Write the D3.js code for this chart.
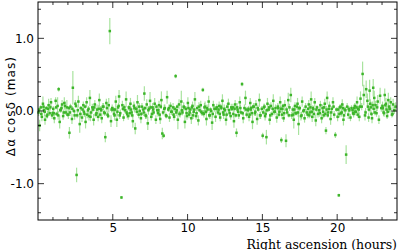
<!DOCTYPE html>
<meta charset="utf-8">
<style>
body { margin: 0; background: #fff; }
.axis text { font: 12px "DejaVu Sans", sans-serif; fill: #000; }
.xlabel { font: 12.5px "DejaVu Serif", serif; }
.ylabel { font: 12px "DejaVu Sans", sans-serif; letter-spacing: 1.1px; }
</style>
<svg width="399" height="250" id="chart"></svg>
<script src="https://cdn.jsdelivr.net/npm/d3@7"></script>
<script>

// right ascension (hours)
var ra = [
  0.04,0.11,0.19,0.26,0.33,0.41,0.47,0.56,0.63,0.71,0.78,0.87,0.94,
  1.02,1.09,1.18,1.24,1.31,1.38,1.45,1.53,1.61,1.68,1.76,1.85,1.93,
  2.03,2.1,2.17,2.27,2.33,2.41,2.5,2.58,2.62,2.7,2.79,2.86,2.94,
  3.03,3.11,3.18,3.25,3.34,3.41,3.47,3.55,3.63,3.72,3.8,3.87,3.95,
  4.02,4.1,4.19,4.26,4.33,4.42,4.5,4.57,4.65,4.73,4.8,4.88,4.96,
  5.04,5.12,5.2,5.27,5.35,5.42,5.5,5.58,5.64,5.72,5.81,5.89,5.96,
  6.03,6.1,6.18,6.26,6.34,6.41,6.5,6.57,6.65,6.73,6.8,6.88,6.95,
  7.04,7.11,7.19,7.27,7.34,7.42,7.49,7.57,7.66,7.73,7.8,7.88,7.97,
  8.02,8.09,8.17,8.25,8.31,8.4,8.48,8.55,8.63,8.71,8.79,8.86,8.94,
  9.03,9.1,9.2,9.27,9.35,9.43,9.5,9.58,9.66,9.74,9.82,9.89,9.96,
  10.02,10.1,10.18,10.25,10.33,10.41,10.49,10.57,10.64,10.72,10.8,10.88,10.96,
  11.02,11.09,11.17,11.26,11.34,11.41,11.49,11.57,11.64,11.72,11.8,11.87,11.95,
  12.03,12.11,12.18,12.26,12.33,12.41,12.5,12.57,12.65,12.73,12.81,12.88,12.95,
  13.03,13.1,13.18,13.27,13.34,13.42,13.49,13.57,13.64,13.72,13.8,13.87,13.95,
  14.04,14.11,14.19,14.26,14.34,14.42,14.5,14.57,14.65,14.73,14.8,14.88,14.96,
  15.02,15.1,15.18,15.27,15.34,15.42,15.49,15.57,15.65,15.73,15.8,15.88,15.96,
  16.03,16.1,16.19,16.27,16.34,16.42,16.5,16.58,16.66,16.73,16.81,16.9,16.96,
  17.03,17.1,17.18,17.27,17.35,17.42,17.5,17.58,17.66,17.74,17.82,17.89,17.96,
  18.03,18.1,18.17,18.26,18.33,18.41,18.5,18.57,18.65,18.72,18.8,18.88,18.96,
  19.02,19.1,19.17,19.25,19.33,19.4,19.48,19.56,19.64,19.72,19.8,19.88,19.95,
  20.03,20.11,20.18,20.27,20.34,20.42,20.5,20.6,20.67,20.74,20.82,20.89,20.96,
  21.03,21.1,21.18,21.25,21.33,21.4,21.48,21.56,21.64,21.7,21.78,21.86,21.94,
  22.02,22.1,22.17,22.25,22.33,22.41,22.48,22.56,22.63,22.71,22.79,22.87,22.95,
  23.03,23.1,23.18,23.26,23.34,23.42,23.5,23.58,23.66,23.74,23.82,23.9,
  // second batch, the dense core near zero
  0.08,0.22,0.37,0.45,0.6,0.68,0.83,0.98,
  1.05,1.21,1.35,1.49,1.57,1.72,1.81,1.97,
  2.06,2.14,2.3,2.45,2.54,2.66,2.83,2.98,
  3.07,3.15,3.29,3.38,3.51,3.67,3.76,3.91,
  4.06,4.15,4.23,4.38,4.46,4.61,4.69,4.92,
  5.08,5.16,5.31,5.39,5.46,5.68,5.77,5.92,
  6.07,6.14,6.22,6.3,6.45,6.61,6.77,6.91,
  7.07,7.15,7.23,7.38,7.53,7.62,7.7,7.92,
  8.05,8.13,8.21,8.36,8.44,8.59,8.75,8.9,
  9.06,9.14,9.24,9.31,9.46,9.62,9.78,9.93,
  10.06,10.14,10.29,10.37,10.45,10.6,10.76,10.92,
  11.05,11.13,11.22,11.3,11.45,11.53,11.68,11.91,
  12.07,12.15,12.22,12.37,12.45,12.61,12.77,12.92,
  13.06,13.14,13.22,13.31,13.38,13.53,13.68,13.91,
  14.07,14.15,14.22,14.3,14.38,14.53,14.69,14.84,
  15.06,15.14,15.22,15.3,15.46,15.53,15.69,15.84,
  16.06,16.14,16.23,16.31,16.38,16.46,16.62,16.77,
  17.06,17.14,17.22,17.31,17.39,17.46,17.62,17.78,
  18.06,18.14,18.21,18.3,18.37,18.45,18.61,18.84,
  19.06,19.13,19.21,19.29,19.37,19.44,19.6,19.76,
  20.07,20.15,20.23,20.3,20.38,20.46,20.55,20.78,
  21.06,21.14,21.21,21.29,21.37,21.44,21.52,21.9,
  22.06,22.13,22.21,22.29,22.37,22.44,22.52,22.67,
  23.06,23.14,23.22,23.3,23.38,23.46,23.54,23.7
];

// offset in alpha cos delta (mas)
var dra = [
  -0.02,-0.20,0.05,-0.08,0.10,0.01,-0.12,0.04,-0.05,0.08,-0.03,0.12,-0.06,
  0.03,-0.10,0.14,-0.04,0.07,0.30,-0.15,0.02,0.09,-0.07,0.11,-0.02,0.05,
  -0.05,-0.30,0.06,-0.11,0.32,0.00,0.10,-0.88,-0.06,0.13,-0.18,0.04,-0.09,
  0.08,-0.04,-0.15,0.12,0.01,-0.07,0.18,-0.02,0.05,-0.12,0.09,-0.05,0.02,
  -0.08,0.15,0.03,-0.10,0.06,-0.02,-0.36,0.11,-0.05,0.08,1.10,-0.14,0.04,
  0.02,-0.06,0.13,-0.12,0.05,0.20,-0.03,-1.19,0.08,-0.09,0.01,0.16,-0.04,
  -0.07,0.04,0.10,-0.02,-0.14,0.07,-0.24,0.03,0.12,-0.05,0.00,-0.10,0.06,
  0.02,0.24,-0.06,0.09,-0.17,0.03,0.14,-0.08,0.05,-0.02,0.10,-0.12,0.01,
  -0.03,0.08,-0.11,0.15,-0.31,-0.34,0.04,-0.06,0.19,0.02,-0.09,0.07,-0.01,
  0.05,-0.08,0.48,0.01,-0.12,0.09,-0.04,0.13,-0.02,0.06,-0.15,0.03,-0.07,
  0.11,-0.05,0.02,-0.10,0.07,-0.01,0.16,-0.07,0.04,-0.13,0.01,0.08,-0.03,
  0.29,-0.04,0.06,-0.11,0.02,0.13,-0.06,0.00,-0.16,0.08,0.03,-0.08,0.05,
  -0.02,0.07,-0.09,0.04,0.14,-0.05,0.01,-0.12,0.06,0.10,-0.03,-0.07,0.03,
  0.05,-0.14,0.09,-0.30,0.02,-0.06,0.12,-0.02,0.37,-0.10,0.04,0.18,-0.05,
  0.01,-0.08,0.11,0.04,-0.15,0.06,-0.03,0.09,-0.11,0.02,0.15,-0.06,0.03,
  -0.34,0.05,-0.07,-0.36,0.10,0.02,-0.12,0.07,-0.04,0.14,-0.01,0.04,-0.09,
  0.06,-0.05,0.12,-0.40,0.03,-0.10,0.08,-0.41,-0.02,0.15,0.05,0.22,-0.06,
  0.02,-0.12,0.07,-0.03,0.10,-0.18,0.04,-0.07,0.13,0.00,-0.10,0.06,-0.02,
  -0.05,0.09,-0.02,0.16,-0.08,0.03,0.12,-0.13,0.05,-0.04,0.01,0.08,-0.10,
  0.04,-0.06,0.10,-0.27,0.18,-0.02,0.07,-0.11,0.03,0.12,-0.05,-0.33,0.02,
  -0.08,-1.16,0.05,-0.03,0.09,-0.12,0.02,-0.60,0.06,-0.05,0.01,-0.09,0.04,
  0.01,-0.04,0.07,-0.01,0.12,0.03,-0.08,0.17,0.06,0.51,0.22,-0.06,0.30,
  0.14,-0.09,0.28,0.05,-0.10,0.32,0.18,0.08,-0.03,0.13,-0.12,0.21,0.04,
  0.07,-0.02,0.22,0.10,-0.07,0.15,0.03,0.12,-0.05,0.09,0.01,0.06,
  0.02,-0.04,0.06,-0.01,-0.07,0.03,0.05,-0.03,
  -0.03,0.05,-0.06,0.01,0.04,-0.02,0.07,-0.05,
  0.04,-0.02,0.03,-0.06,0.07,0.01,-0.04,0.02,
  -0.01,0.06,-0.05,0.03,-0.08,0.02,0.05,-0.03,
  0.03,-0.05,0.01,0.06,-0.03,0.04,-0.07,0.02,
  -0.04,0.02,-0.01,0.07,-0.06,0.03,0.05,-0.02,
  0.05,-0.03,0.02,-0.06,0.04,-0.01,0.06,-0.04,
  -0.02,0.04,-0.07,0.01,0.05,-0.04,0.02,0.06,
  0.01,-0.05,0.06,-0.02,0.03,-0.07,0.04,-0.01,
  -0.05,0.03,-0.02,0.06,-0.04,0.01,0.05,-0.03,
  0.04,-0.02,0.05,-0.06,0.02,-0.03,0.06,-0.01,
  -0.03,0.05,-0.01,0.04,-0.06,0.02,-0.04,0.03,
  0.02,-0.04,0.06,-0.02,0.03,-0.05,0.01,0.05,
  -0.04,0.03,-0.06,0.05,-0.01,0.04,-0.03,0.02,
  0.03,-0.05,0.02,-0.03,0.06,-0.01,0.04,-0.06,
  -0.02,0.06,-0.04,0.01,0.05,-0.06,0.03,-0.01,
  0.04,-0.01,0.03,-0.05,0.07,-0.03,0.02,-0.06,
  -0.05,0.02,-0.03,0.06,-0.02,0.04,-0.06,0.01,
  0.03,-0.06,0.05,-0.01,0.04,-0.04,0.02,-0.03,
  -0.01,0.05,-0.04,0.02,-0.06,0.03,-0.02,0.06,
  0.02,-0.04,0.06,-0.02,0.04,-0.06,0.01,0.03,
  -0.03,0.04,-0.01,0.05,-0.05,0.02,0.06,-0.02,
  0.06,0.02,0.10,-0.04,0.08,0.03,-0.02,0.05,
  0.04,-0.03,0.08,0.02,-0.01,0.06,0.03,-0.04
];

// 1-sigma errors (mas)
var err = [
  0.05,0.08,0.03,0.06,0.10,0.04,0.07,0.03,0.05,0.09,0.04,0.06,0.05,
  0.04,0.07,0.05,0.03,0.12,0.03,0.09,0.04,0.06,0.05,0.08,0.03,0.10,
  0.06,0.08,0.04,0.07,0.23,0.03,0.05,0.10,0.04,0.08,0.12,0.03,0.06,
  0.05,0.04,0.09,0.07,0.03,0.06,0.11,0.04,0.05,0.08,0.06,0.04,0.07,
  0.06,0.09,0.04,0.07,0.05,0.03,0.07,0.06,0.04,0.10,0.18,0.08,0.05,
  0.04,0.07,0.08,0.10,0.03,0.09,0.05,0.02,0.06,0.05,0.04,0.11,0.06,
  0.05,0.04,0.08,0.03,0.09,0.06,0.08,0.04,0.10,0.05,0.03,0.07,0.05,
  0.04,0.10,0.05,0.07,0.09,0.03,0.12,0.05,0.06,0.04,0.08,0.06,0.03,
  0.05,0.06,0.07,0.12,0.08,0.03,0.05,0.04,0.09,0.03,0.06,0.05,0.04,
  0.06,0.05,0.03,0.04,0.13,0.07,0.05,0.15,0.04,0.06,0.09,0.04,0.05,
  0.08,0.05,0.04,0.08,0.06,0.03,0.10,0.05,0.04,0.07,0.03,0.06,0.04,
  0.03,0.05,0.07,0.09,0.04,0.08,0.05,0.03,0.10,0.06,0.04,0.07,0.05,
  0.04,0.06,0.05,0.03,0.09,0.06,0.04,0.08,0.05,0.07,0.04,0.05,0.03,
  0.05,0.09,0.06,0.06,0.04,0.05,0.08,0.03,0.03,0.07,0.05,0.10,0.04,
  0.04,0.06,0.07,0.03,0.10,0.05,0.04,0.06,0.08,0.03,0.09,0.05,0.04,
  0.04,0.05,0.06,0.10,0.08,0.03,0.07,0.05,0.04,0.09,0.03,0.05,0.07,
  0.05,0.04,0.08,0.04,0.06,0.05,0.07,0.09,0.04,0.10,0.05,0.10,0.05,
  0.04,0.12,0.05,0.03,0.08,0.15,0.04,0.06,0.07,0.03,0.06,0.05,0.04,
  0.05,0.06,0.04,0.11,0.07,0.04,0.06,0.08,0.03,0.05,0.04,0.06,0.07,
  0.05,0.04,0.07,0.05,0.09,0.03,0.06,0.08,0.04,0.07,0.05,0.04,0.03,
  0.06,0.02,0.04,0.05,0.07,0.08,0.04,0.13,0.05,0.06,0.03,0.05,0.04,
  0.03,0.05,0.04,0.03,0.08,0.04,0.06,0.10,0.05,0.17,0.14,0.07,0.12,
  0.10,0.06,0.15,0.08,0.07,0.12,0.10,0.06,0.05,0.09,0.06,0.11,0.05,
  0.06,0.05,0.09,0.08,0.04,0.10,0.05,0.07,0.04,0.08,0.05,0.06,
  0.03,0.05,0.04,0.06,0.03,0.05,0.04,0.03,
  0.04,0.03,0.06,0.03,0.05,0.04,0.06,0.03,
  0.03,0.05,0.04,0.06,0.03,0.04,0.05,0.03,
  0.04,0.03,0.05,0.04,0.06,0.03,0.05,0.04,
  0.05,0.04,0.03,0.05,0.04,0.06,0.03,0.04,
  0.04,0.03,0.06,0.04,0.05,0.03,0.04,0.05,
  0.03,0.05,0.04,0.03,0.06,0.04,0.05,0.03,
  0.05,0.03,0.04,0.06,0.03,0.05,0.04,0.03,
  0.04,0.05,0.03,0.04,0.06,0.03,0.05,0.04,
  0.03,0.04,0.05,0.03,0.04,0.06,0.03,0.05,
  0.05,0.03,0.04,0.05,0.03,0.04,0.06,0.03,
  0.04,0.06,0.03,0.05,0.04,0.03,0.05,0.04,
  0.03,0.05,0.04,0.03,0.06,0.04,0.03,0.05,
  0.05,0.04,0.03,0.06,0.04,0.05,0.03,0.04,
  0.04,0.03,0.05,0.04,0.03,0.06,0.04,0.05,
  0.03,0.04,0.06,0.03,0.05,0.04,0.03,0.05,
  0.05,0.03,0.04,0.06,0.03,0.05,0.04,0.03,
  0.04,0.05,0.03,0.04,0.06,0.03,0.05,0.04,
  0.03,0.04,0.05,0.03,0.04,0.06,0.03,0.05,
  0.05,0.03,0.04,0.05,0.03,0.04,0.06,0.03,
  0.04,0.05,0.03,0.04,0.06,0.03,0.05,0.04,
  0.03,0.04,0.05,0.03,0.04,0.05,0.03,0.06,
  0.05,0.04,0.06,0.03,0.05,0.07,0.04,0.05,
  0.04,0.05,0.03,0.06,0.04,0.03,0.05,0.04
];

var xMajor = [5, 10, 15, 20];
var yMajor = [-1, 0, 1];

var svg = d3.select("svg"),
    margin = {top: 2, right: 2, bottom: 30, left: 38},
    width = +svg.attr("width") - margin.left - margin.right,
    height = +svg.attr("height") - margin.top - margin.bottom;

var x = d3.scaleLinear().domain([0, 24]).range([0, width]);
var y = d3.scaleLinear().domain([-1.5, 1.5]).range([height, 0]);

var g = svg.append("g")
    .attr("transform", "translate(" + margin.left + "," + margin.top + ")");

var pts = ra.map(function(d, i) { return {ra: d, v: dra[i], e: err[i]}; });

// error bars
g.append("g").selectAll("line")
    .data(pts)
  .enter().append("line")
    .attr("x1", function(d) { return x(d.ra); })
    .attr("x2", function(d) { return x(d.ra); })
    .attr("y1", function(d) { return y(d.v - d.e); })
    .attr("y2", function(d) { return y(d.v + d.e); })
    .attr("stroke", "#7ad46a")
    .attr("stroke-opacity", 0.65)
    .attr("stroke-width", 1.2);

// points
g.append("g").selectAll("rect")
    .data(pts)
  .enter().append("rect")
    .attr("x", function(d) { return x(d.ra) - 1.25; })
    .attr("y", function(d) { return y(d.v) - 1.25; })
    .attr("width", 2.5)
    .attr("height", 2.5)
    .attr("fill", "#3db52a");

// frame with inward ticks
var minorX = d3.range(1, 24).filter(function(d) { return d % 5 !== 0; });
var minorY = [-1.4, -1.2, -0.8, -0.6, -0.4, -0.2, 0.2, 0.4, 0.6, 0.8, 1.2, 1.4];

function ticksX(sel, vals, len, top) {
  sel.selectAll(null).data(vals).enter().append("line")
      .attr("x1", function(d) { return x(d); })
      .attr("x2", function(d) { return x(d); })
      .attr("y1", top ? 0 : height)
      .attr("y2", top ? len : height - len)
      .attr("stroke", "#000").attr("stroke-width", 0.8);
}
function ticksY(sel, vals, len, right) {
  sel.selectAll(null).data(vals).enter().append("line")
      .attr("y1", function(d) { return y(d); })
      .attr("y2", function(d) { return y(d); })
      .attr("x1", right ? width : 0)
      .attr("x2", right ? width - len : len)
      .attr("stroke", "#000").attr("stroke-width", 0.8);
}

var frame = g.append("g");
frame.append("rect")
    .attr("width", width).attr("height", height)
    .attr("fill", "none").attr("stroke", "#000").attr("stroke-width", 1);
ticksX(frame, xMajor, 6, false); ticksX(frame, xMajor, 6, true);
ticksX(frame, minorX, 3, false); ticksX(frame, minorX, 3, true);
ticksY(frame, yMajor, 6, false); ticksY(frame, yMajor, 6, true);
ticksY(frame, minorY, 3, false); ticksY(frame, minorY, 3, true);

// tick labels via axes (lines hidden)
g.append("g")
    .attr("class", "axis")
    .attr("transform", "translate(0," + height + ")")
    .call(d3.axisBottom(x).tickValues(xMajor).tickSize(0).tickPadding(3))
    .call(function(a) { a.select(".domain").remove(); });

g.append("g")
    .attr("class", "axis")
    .call(d3.axisLeft(y).tickValues(yMajor).tickSize(0).tickPadding(4)
      .tickFormat(function(d) { return d3.format(".1f")(d).replace("−", "-"); }))
    .call(function(a) { a.select(".domain").remove(); });

svg.append("text")
    .attr("class", "xlabel")
    .attr("x", 397)
    .attr("y", 248.5)
    .attr("text-anchor", "end")
    .text("Right ascension (hours)");

svg.append("text")
    .attr("class", "ylabel")
    .attr("transform", "translate(15,106) rotate(-90)")
    .attr("text-anchor", "middle")
    .text("Δα cosδ (mas)");

</script>
